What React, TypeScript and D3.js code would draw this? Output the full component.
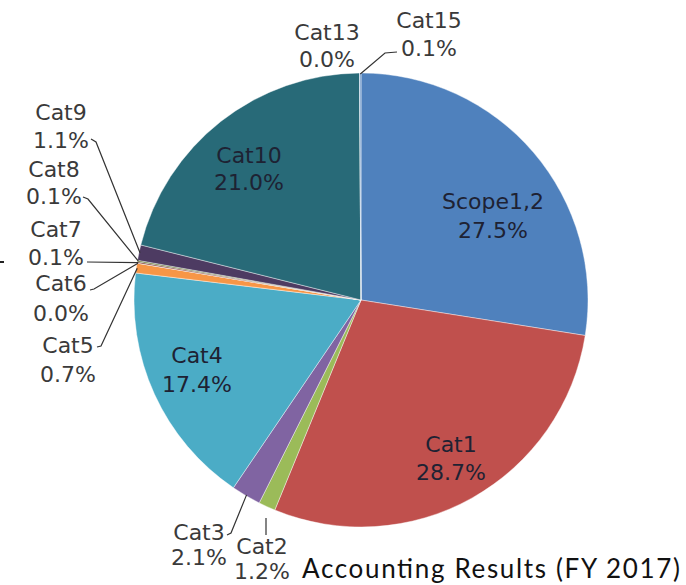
import React from "react";
import * as d3 from "d3";

const categories = ["Scope1,2", "Cat1", "Cat2", "Cat3", "Cat4", "Cat5", "Cat6", "Cat7", "Cat8", "Cat9", "Cat10", "Cat13", "Cat15"];
const values = [27.5, 28.7, 1.2, 2.1, 17.4, 0.7, 0.0, 0.1, 0.1, 1.1, 21.0, 0.0, 0.1];
const colors = ["#4F81BD", "#C0504D", "#9BBB59", "#8064A2", "#4BACC6", "#F79646", "#2C4D75", "#772C2A", "#5F7530", "#4D3B62", "#286A78", "#B65708", "#729ACA"];
const title = "Accounting Results (FY 2017)";

// label layout: centre x, baselines of the two lines, leader start points (label side)
type Lay = { x: number; y1: number; y2: number; inside?: boolean; leader?: [number, number][] };
const layout: Record<string, Lay> = {
  "Scope1,2": { x: 493, y1: 209, y2: 238, inside: true },
  Cat1: { x: 451, y1: 452, y2: 480, inside: true },
  Cat2: { x: 262, y1: 554, y2: 579, leader: [[266, 535], [266, 518]] },
  Cat3: { x: 199, y1: 540, y2: 565, leader: [[227, 535], [231, 533]] },
  Cat4: { x: 197, y1: 363, y2: 392, inside: true },
  Cat5: { x: 68, y1: 353, y2: 382, leader: [[97, 347], [101, 346]] },
  Cat6: { x: 61, y1: 291, y2: 321, leader: [[90, 290], [94, 289]] },
  Cat7: { x: 56, y1: 237, y2: 265, leader: [[87, 262]] },
  Cat8: { x: 54, y1: 177, y2: 204, leader: [[83, 197], [88, 199]] },
  Cat9: { x: 61, y1: 120, y2: 148, leader: [[91, 139], [96, 142]] },
  Cat10: { x: 249, y1: 163, y2: 190, inside: true },
  Cat13: { x: 327, y1: 40, y2: 67 },
  Cat15: { x: 429, y1: 28, y2: 56, leader: [[397, 52], [385, 53]] },
};

const W = 686;
const H = 585;
const cx = 361;
const cy = 300;
const R = 227;

export default function App() {
  const pie = d3.pie<number>().sort(null).value((d) => d).startAngle(0).endAngle(2 * Math.PI);
  const arcs = pie(values);
  const arc = d3.arc<d3.PieArcDatum<number>>().innerRadius(0).outerRadius(R);
  const fmt = (v: number) => v.toFixed(1) + "%";
  const font = "'DejaVu Sans', sans-serif";

  return (
    <svg width={W} height={H} style={{ position: "absolute", left: 0, top: 0, background: "#fff" }}>
      <g transform={`translate(${cx},${cy})`}>
        {arcs.map((a, i) => (
          <path key={categories[i]} d={arc(a) || ""} fill={colors[i]} stroke="#ffffff" strokeWidth={0.6} strokeOpacity={0.7} />
        ))}
      </g>
      {arcs.map((a, i) => {
        const lay = layout[categories[i]];
        if (!lay || !lay.leader) return null;
        const mid = (a.startAngle + a.endAngle) / 2;
        const end: [number, number] = [cx + (R - 1) * Math.sin(mid), cy - (R - 1) * Math.cos(mid)];
        const pts = categories[i] === "Cat2" ? lay.leader : [...lay.leader, end];
        const line = d3.line()(pts as [number, number][]);
        return <path key={"l" + i} d={line || ""} fill="none" stroke="#333" strokeWidth={1.2} />;
      })}
      <line x1={0} x2={4} y1={262} y2={262} stroke="#222" strokeWidth={2} />
      {categories.map((c, i) => {
        const lay = layout[c];
        const fill = lay.inside ? "#1e2233" : "#3a3a3a";
        return (
          <g key={"t" + c} fontFamily={font} fontSize={22} fill={fill} textAnchor="middle">
            <text x={lay.x} y={lay.y1}>{c}</text>
            <text x={lay.x} y={lay.y2}>{fmt(values[i])}</text>
          </g>
        );
      })}
      <text x={302} y={578} textLength={378} lengthAdjust="spacing" fontFamily="Lato, 'Open Sans', sans-serif" fontSize={26} fill="#111">
        {title}
      </text>
    </svg>
  );
}
